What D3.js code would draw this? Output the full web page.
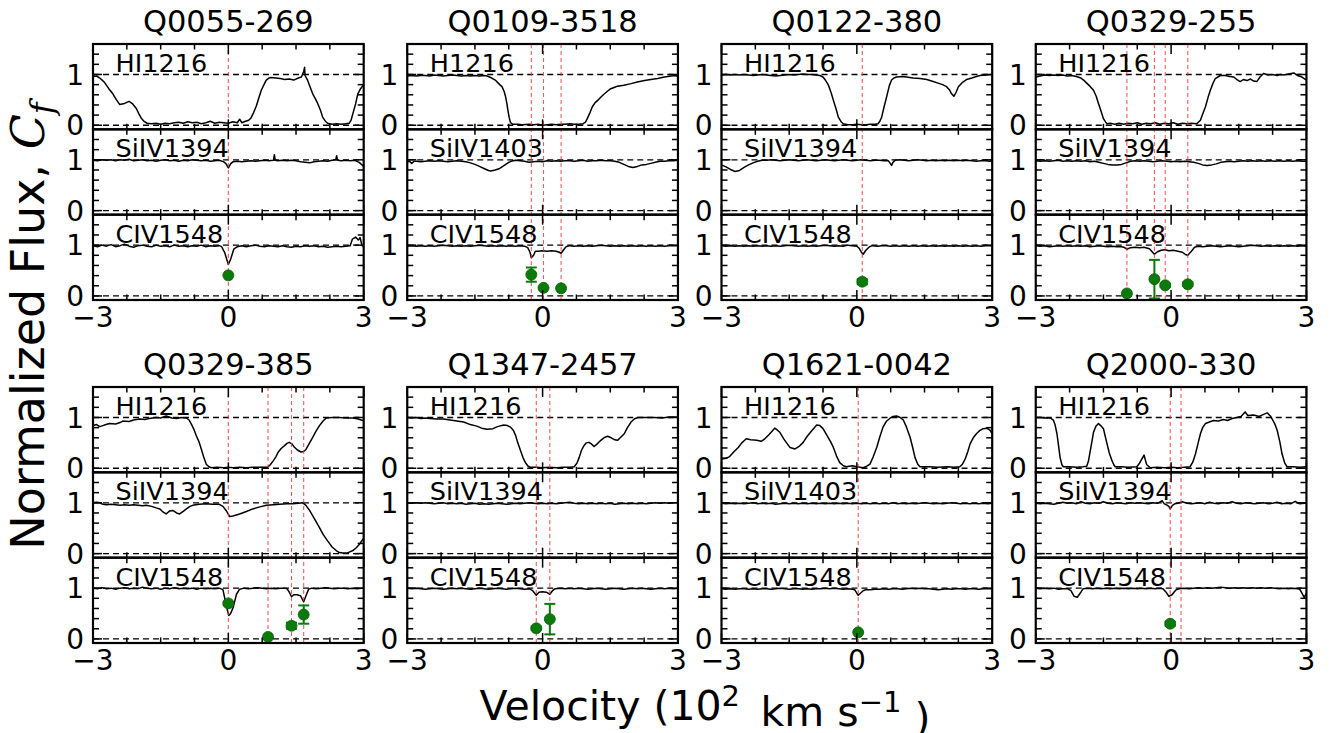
<!DOCTYPE html>
<html><head><meta charset="utf-8">
<script src="https://cdn.jsdelivr.net/npm/d3@7"></script>
<style>body{margin:0;background:#fff}svg{display:block}text{font-family:"DejaVu Sans",sans-serif;fill:#000}</style>
</head><body><svg id="c" width="1331" height="733"></svg>
<script>
// ---------------- DATA ----------------
const panelNames = ["Q0055-269","Q0109-3518","Q0122-380","Q0329-255","Q0329-385","Q1347-2457","Q1621-0042","Q2000-330"];
const lineLabels = [
 ["HI1216","SiIV1394","CIV1548"],["H1216","SiIV1403","CIV1548"],["HI1216","SiIV1394","CIV1548"],["HI1216","SiIV1394","CIV1548"],
 ["HI1216","SiIV1394","CIV1548"],["HI1216","SiIV1394","CIV1548"],["HI1216","SiIV1403","CIV1548"],["HI1216","SiIV1394","CIV1548"]];
const xTickValues = [-3,0,3];
const xTickLabels = ["\u22123","0","3"];
const yTickValues = [0,1];
const yTickLabels = ["0","1"];

// velocity (10^2 km/s), normalized flux
const q0055_HI = [[-3,0.96],[-2.92,0.97],[-2.85,0.93],[-2.75,0.85],[-2.65,0.72],[-2.56,0.62],[-2.48,0.5],[-2.41,0.41],[-2.3,0.43],[-2.2,0.47],[-2.12,0.42],[-2.04,0.33],[-1.98,0.22],[-1.93,0.14],[-1.86,0.07],[-1.8,0.04],[-1.7,0.03],[-1.6,0.04],[-1.5,0.02],[-1.4,0.04],[-1.3,0.03],[-1.2,0.05],[-1.1,0.06],[-1.0,0.04],[-0.9,0.07],[-0.8,0.05],[-0.7,0.06],[-0.6,0.03],[-0.5,0.05],[-0.4,0.08],[-0.3,0.04],[-0.2,0.06],[-0.1,0.05],[0,0.04],[0.1,0.07],[0.2,0.05],[0.25,0.12],[0.3,0.05],[0.38,0.08],[0.45,0.1],[0.5,0.14],[0.56,0.25],[0.62,0.38],[0.68,0.55],[0.73,0.69],[0.79,0.8],[0.84,0.89],[0.9,0.93],[0.95,0.94],[1.05,0.93],[1.15,0.92],[1.25,0.9],[1.35,0.91],[1.45,0.89],[1.55,0.93],[1.62,0.95],[1.67,1.06],[1.69,1.14],[1.7,0.98],[1.75,0.9],[1.81,0.76],[1.87,0.62],[1.93,0.52],[1.98,0.43],[2.04,0.3],[2.09,0.16],[2.15,0.08],[2.2,0.04],[2.3,0.02],[2.4,0.03],[2.5,0.02],[2.6,0.03],[2.68,0.04],[2.72,0.1],[2.76,0.23],[2.82,0.42],[2.87,0.62],[2.93,0.72],[3,0.8]];
const q0055_SiIV = [[-3,0.99],[-2.9,0.98],[-2.8,1.0],[-2.7,0.99],[-2.6,1.0],[-2.5,0.98],[-2.4,1.0],[-2.3,0.99],[-2.2,1.01],[-2.1,0.98],[-2.0,0.99],[-1.9,1.0],[-1.8,0.98],[-1.7,0.99],[-1.6,0.97],[-1.5,0.99],[-1.4,1.0],[-1.3,0.98],[-1.2,0.99],[-1.1,0.97],[-1.0,0.99],[-0.9,0.98],[-0.8,1.0],[-0.7,0.99],[-0.6,0.98],[-0.5,0.99],[-0.4,0.97],[-0.3,0.98],[-0.2,0.99],[-0.1,0.96],[-0.05,0.92],[0,0.84],[0.05,0.92],[0.1,0.96],[0.2,0.97],[0.3,0.96],[0.4,0.97],[0.5,0.98],[0.6,0.97],[0.7,0.98],[0.8,0.99],[0.9,0.98],[1.0,0.99],[1.02,1.1],[1.04,0.99],[1.1,0.98],[1.2,0.99],[1.3,0.98],[1.4,0.99],[1.5,0.98],[1.6,0.96],[1.7,0.95],[1.8,0.94],[1.9,0.96],[2.0,0.97],[2.1,0.98],[2.2,0.97],[2.3,0.99],[2.38,1.0],[2.4,1.08],[2.42,0.99],[2.5,0.98],[2.6,0.99],[2.7,0.98],[2.8,0.99],[2.9,0.95],[3,0.87]];
const q0055_CIV = [[-3,0.99],[-2.9,0.97],[-2.8,1.0],[-2.7,0.98],[-2.6,1.01],[-2.5,0.97],[-2.4,0.99],[-2.3,1.02],[-2.2,0.98],[-2.1,0.96],[-2.0,0.99],[-1.9,1.0],[-1.8,0.98],[-1.7,0.97],[-1.6,1.0],[-1.5,0.98],[-1.4,0.99],[-1.3,0.97],[-1.2,1.0],[-1.1,0.98],[-1.0,0.99],[-0.9,0.97],[-0.8,0.99],[-0.7,0.98],[-0.6,1.0],[-0.5,0.97],[-0.4,0.99],[-0.3,0.98],[-0.2,0.99],[-0.15,0.97],[-0.08,0.85],[0,0.62],[0.05,0.72],[0.12,0.92],[0.2,0.97],[0.3,0.99],[0.4,0.97],[0.5,0.99],[0.6,1.0],[0.7,0.98],[0.8,0.97],[0.9,0.99],[1.0,0.98],[1.1,0.97],[1.2,0.99],[1.3,0.97],[1.4,0.96],[1.5,0.98],[1.6,0.97],[1.7,0.99],[1.8,0.98],[1.9,0.99],[2.0,0.97],[2.1,0.98],[2.2,0.96],[2.3,0.97],[2.4,0.98],[2.5,0.97],[2.6,0.98],[2.7,0.99],[2.75,1.12],[2.82,1.16],[2.88,1.1],[2.92,1.15],[2.96,1.0],[3,0.96]];

const q0109_HI = [[-3,0.97],[-2.9,0.98],[-2.8,0.97],[-2.7,0.98],[-2.6,0.98],[-2.5,0.97],[-2.4,0.99],[-2.3,0.98],[-2.2,0.97],[-2.1,0.98],[-2.0,0.99],[-1.9,0.98],[-1.8,0.97],[-1.7,0.98],[-1.6,0.97],[-1.5,0.98],[-1.4,0.97],[-1.3,0.98],[-1.23,0.97],[-1.15,0.94],[-1.05,0.89],[-0.95,0.8],[-0.9,0.76],[-0.85,0.66],[-0.82,0.56],[-0.79,0.42],[-0.77,0.3],[-0.74,0.15],[-0.71,0.05],[-0.66,0.02],[-0.55,0.02],[-0.45,0.01],[-0.3,0.02],[-0.2,0.01],[-0.1,0.02],[0,0.0],[0.1,0.01],[0.2,0.02],[0.3,0.01],[0.4,0.02],[0.5,0.02],[0.6,0.03],[0.7,0.02],[0.8,0.02],[0.9,0.03],[0.95,0.06],[0.99,0.13],[1.05,0.25],[1.1,0.36],[1.16,0.44],[1.22,0.49],[1.3,0.56],[1.37,0.62],[1.45,0.68],[1.51,0.72],[1.6,0.75],[1.66,0.77],[1.8,0.79],[1.96,0.82],[2.1,0.85],[2.26,0.88],[2.4,0.9],[2.55,0.92],[2.7,0.95],[2.85,0.97],[2.95,0.98],[3,0.96]];
const q0109_SiIV = [[-3,0.96],[-2.95,0.97],[-2.9,0.93],[-2.85,0.97],[-2.8,0.97],[-2.7,0.96],[-2.6,0.97],[-2.5,0.98],[-2.4,0.97],[-2.3,0.98],[-2.2,0.97],[-2.1,0.96],[-2.0,0.97],[-1.9,0.98],[-1.8,0.97],[-1.7,0.96],[-1.6,0.94],[-1.5,0.91],[-1.4,0.87],[-1.3,0.83],[-1.2,0.79],[-1.15,0.78],[-1.05,0.8],[-0.95,0.83],[-0.85,0.89],[-0.75,0.95],[-0.7,0.97],[-0.6,0.99],[-0.5,0.98],[-0.4,0.97],[-0.3,0.95],[-0.2,0.96],[-0.1,0.97],[0,0.96],[0.1,0.98],[0.2,0.97],[0.3,0.98],[0.4,0.97],[0.5,0.98],[0.6,0.98],[0.7,0.97],[0.8,0.98],[0.9,0.99],[1.0,0.97],[1.1,0.98],[1.2,0.98],[1.3,0.99],[1.4,0.98],[1.5,0.98],[1.6,0.97],[1.7,0.95],[1.8,0.91],[1.9,0.87],[2.0,0.85],[2.1,0.87],[2.2,0.9],[2.3,0.91],[2.4,0.93],[2.5,0.95],[2.6,0.97],[2.7,0.97],[2.8,0.98],[2.9,0.98],[3,0.99]];
const q0109_CIV = [[-3,0.98],[-2.9,0.99],[-2.8,0.98],[-2.7,0.99],[-2.6,0.98],[-2.5,0.99],[-2.4,0.98],[-2.3,0.99],[-2.2,1.0],[-2.1,0.99],[-2.0,0.98],[-1.9,0.99],[-1.8,0.98],[-1.7,0.99],[-1.6,0.98],[-1.5,0.99],[-1.4,1.0],[-1.3,0.99],[-1.2,0.98],[-1.1,0.99],[-1.0,0.98],[-0.9,0.99],[-0.8,0.98],[-0.7,0.99],[-0.6,0.98],[-0.5,0.99],[-0.4,0.98],[-0.33,0.95],[-0.28,0.86],[-0.25,0.75],[-0.2,0.8],[-0.16,0.88],[-0.1,0.88],[0,0.89],[0.1,0.88],[0.2,0.89],[0.3,0.88],[0.37,0.86],[0.41,0.84],[0.46,0.9],[0.52,0.97],[0.6,0.99],[0.7,0.98],[0.8,0.99],[0.9,0.98],[1.0,0.99],[1.1,0.98],[1.2,0.99],[1.3,1.0],[1.4,0.99],[1.5,0.98],[1.6,0.99],[1.7,0.98],[1.8,0.99],[1.9,0.98],[2.0,0.99],[2.1,0.98],[2.2,0.99],[2.3,0.98],[2.4,0.99],[2.5,0.98],[2.6,0.99],[2.7,0.98],[2.8,0.99],[2.9,0.99],[3,0.99]];

const q0122_HI = [[-3,0.99],[-2.9,1.0],[-2.8,0.99],[-2.7,1.0],[-2.6,0.99],[-2.5,1.0],[-2.4,0.99],[-2.3,0.98],[-2.2,0.99],[-2.1,1.0],[-2.0,0.99],[-1.9,0.98],[-1.8,0.97],[-1.7,0.98],[-1.6,0.99],[-1.5,1.0],[-1.4,0.99],[-1.3,1.0],[-1.2,1.01],[-1.1,1.0],[-1.0,1.0],[-0.9,0.99],[-0.82,0.98],[-0.75,0.95],[-0.69,0.88],[-0.63,0.79],[-0.57,0.64],[-0.52,0.49],[-0.46,0.32],[-0.41,0.16],[-0.35,0.07],[-0.3,0.03],[-0.2,0.01],[-0.1,0.01],[0,0.02],[0.1,0.01],[0.2,0.01],[0.3,0.02],[0.4,0.02],[0.47,0.03],[0.51,0.08],[0.55,0.16],[0.6,0.35],[0.66,0.56],[0.72,0.78],[0.77,0.89],[0.82,0.93],[0.88,0.95],[1.0,0.96],[1.1,0.95],[1.25,0.93],[1.4,0.92],[1.55,0.9],[1.69,0.86],[1.8,0.83],[1.9,0.8],[1.99,0.76],[2.05,0.7],[2.1,0.62],[2.15,0.57],[2.2,0.65],[2.25,0.76],[2.35,0.85],[2.43,0.9],[2.55,0.93],[2.65,0.96],[2.73,0.98],[2.85,0.99],[3,1.0]];
const q0122_SiIV = [[-3,0.9],[-2.9,0.86],[-2.8,0.81],[-2.7,0.77],[-2.6,0.79],[-2.5,0.85],[-2.4,0.9],[-2.3,0.94],[-2.2,0.97],[-2.1,0.99],[-2.0,0.99],[-1.9,1.0],[-1.8,0.99],[-1.7,0.98],[-1.6,0.99],[-1.5,1.0],[-1.4,0.99],[-1.3,0.98],[-1.2,0.99],[-1.1,1.0],[-1.0,0.99],[-0.9,0.98],[-0.8,0.99],[-0.7,1.0],[-0.6,0.99],[-0.5,0.98],[-0.4,0.99],[-0.3,1.0],[-0.2,0.99],[-0.1,0.98],[0,0.99],[0.1,1.0],[0.2,0.99],[0.3,0.98],[0.4,0.99],[0.5,0.99],[0.6,0.98],[0.7,0.98],[0.74,0.93],[0.77,0.89],[0.8,0.95],[0.85,0.99],[0.95,1.0],[1.05,0.99],[1.15,0.98],[1.25,0.99],[1.35,1.0],[1.45,0.99],[1.55,0.98],[1.65,0.99],[1.75,0.98],[1.85,0.99],[1.95,0.98],[2.05,0.99],[2.15,0.98],[2.25,0.99],[2.35,0.98],[2.45,0.99],[2.55,0.98],[2.65,0.97],[2.75,0.98],[2.85,0.98],[2.95,0.97],[3,0.98]];
const q0122_CIV = [[-3,0.99],[-2.9,0.98],[-2.8,0.99],[-2.7,0.98],[-2.6,0.99],[-2.5,0.98],[-2.4,0.99],[-2.3,0.98],[-2.2,0.99],[-2.1,0.98],[-2.0,0.99],[-1.9,0.98],[-1.8,0.99],[-1.7,0.98],[-1.6,0.99],[-1.5,1.0],[-1.4,0.99],[-1.3,0.98],[-1.2,0.99],[-1.1,0.98],[-1.0,0.99],[-0.9,0.98],[-0.8,0.99],[-0.7,1.0],[-0.6,0.99],[-0.5,0.98],[-0.4,0.99],[-0.3,0.98],[-0.2,1.0],[-0.1,0.99],[0,0.98],[0.05,0.94],[0.1,0.86],[0.14,0.82],[0.2,0.9],[0.28,0.97],[0.35,0.99],[0.45,0.98],[0.55,0.99],[0.65,0.99],[0.75,0.98],[0.85,0.99],[0.95,0.98],[1.05,0.99],[1.15,0.98],[1.25,0.99],[1.35,0.98],[1.45,0.99],[1.55,0.98],[1.65,0.99],[1.75,0.98],[1.85,0.99],[1.95,0.98],[2.05,0.99],[2.15,0.98],[2.25,0.99],[2.35,0.98],[2.45,0.99],[2.55,0.98],[2.65,0.99],[2.75,0.98],[2.85,0.99],[3,0.99]];

const q0329a_HI = [[-3,0.95],[-2.9,0.97],[-2.8,0.99],[-2.7,0.98],[-2.6,0.99],[-2.5,0.98],[-2.4,0.99],[-2.3,0.97],[-2.2,0.98],[-2.1,0.96],[-2.0,0.93],[-1.94,0.89],[-1.87,0.83],[-1.8,0.77],[-1.72,0.69],[-1.66,0.57],[-1.61,0.43],[-1.55,0.27],[-1.5,0.13],[-1.45,0.06],[-1.42,0.03],[-1.35,0.04],[-1.25,0.02],[-1.15,0.04],[-1.05,0.02],[-0.95,0.04],[-0.85,0.03],[-0.75,0.05],[-0.65,0.02],[-0.55,0.04],[-0.45,0.03],[-0.35,0.05],[-0.25,0.02],[-0.15,0.04],[-0.05,0.03],[0.05,0.05],[0.15,0.02],[0.25,0.04],[0.35,0.03],[0.45,0.04],[0.57,0.03],[0.65,0.1],[0.7,0.22],[0.76,0.36],[0.82,0.55],[0.87,0.69],[0.93,0.83],[0.98,0.92],[1.09,0.98],[1.2,0.98],[1.3,0.96],[1.39,0.95],[1.46,0.9],[1.53,0.86],[1.6,0.9],[1.68,0.88],[1.76,0.91],[1.83,0.87],[1.9,0.86],[1.97,0.95],[2.05,1.02],[2.15,0.99],[2.25,1.0],[2.35,0.98],[2.42,1.0],[2.5,0.99],[2.6,1.01],[2.72,1.03],[2.8,0.98],[2.9,0.95],[3,0.89]];
const q0329a_SiIV = [[-3,0.98],[-2.9,0.97],[-2.8,0.98],[-2.7,0.97],[-2.6,0.98],[-2.5,0.99],[-2.4,0.97],[-2.3,0.98],[-2.2,0.97],[-2.1,0.98],[-2.0,0.97],[-1.9,0.98],[-1.8,0.96],[-1.7,0.97],[-1.6,0.95],[-1.5,0.93],[-1.4,0.91],[-1.3,0.9],[-1.2,0.9],[-1.1,0.91],[-1.0,0.94],[-0.9,0.97],[-0.8,0.98],[-0.7,0.97],[-0.6,0.98],[-0.5,0.97],[-0.4,0.96],[-0.3,0.97],[-0.2,0.98],[-0.1,0.97],[0,0.96],[0.1,0.97],[0.2,0.96],[0.3,0.97],[0.4,0.96],[0.5,0.95],[0.6,0.93],[0.7,0.9],[0.8,0.89],[0.9,0.9],[1.0,0.92],[1.1,0.95],[1.2,0.96],[1.3,0.97],[1.4,0.96],[1.5,0.97],[1.6,0.98],[1.7,0.97],[1.8,0.98],[1.9,0.97],[2.0,0.98],[2.1,0.97],[2.2,0.98],[2.3,0.97],[2.4,0.98],[2.5,0.97],[2.6,0.98],[2.7,0.97],[2.8,0.98],[2.9,0.97],[3,0.97]];
const q0329a_CIV = [[-3,0.99],[-2.9,0.98],[-2.8,0.99],[-2.7,0.97],[-2.6,0.98],[-2.5,0.99],[-2.4,0.98],[-2.3,0.99],[-2.2,0.98],[-2.1,0.99],[-2.0,0.98],[-1.9,0.99],[-1.8,0.97],[-1.7,0.98],[-1.6,0.99],[-1.5,0.98],[-1.4,0.97],[-1.3,0.98],[-1.2,0.97],[-1.1,0.97],[-1.05,0.96],[-0.98,0.92],[-0.9,0.95],[-0.8,0.96],[-0.7,0.95],[-0.6,0.96],[-0.48,0.93],[-0.42,0.87],[-0.37,0.82],[-0.3,0.87],[-0.22,0.9],[-0.13,0.91],[-0.05,0.89],[0.05,0.9],[0.15,0.88],[0.25,0.86],[0.33,0.81],[0.37,0.8],[0.45,0.88],[0.52,0.96],[0.6,0.98],[0.7,0.97],[0.8,0.98],[0.9,0.99],[1.0,0.98],[1.1,0.97],[1.2,0.98],[1.3,0.99],[1.4,0.98],[1.5,0.97],[1.6,0.98],[1.7,0.99],[1.8,1.0],[1.9,0.99],[2.0,0.98],[2.1,0.99],[2.2,0.98],[2.3,0.99],[2.4,0.98],[2.5,0.99],[2.6,0.98],[2.7,0.99],[2.8,0.98],[2.9,0.99],[3,0.98]];

const q0329b_HI = [[-3,0.84],[-2.92,0.86],[-2.85,0.82],[-2.75,0.85],[-2.63,0.88],[-2.5,0.87],[-2.4,0.9],[-2.34,0.93],[-2.2,0.92],[-2.1,0.95],[-1.97,0.97],[-1.85,0.96],[-1.75,0.98],[-1.6,1.0],[-1.5,0.99],[-1.38,1.03],[-1.25,0.99],[-1.15,0.98],[-1.05,1.0],[-0.93,0.99],[-0.87,0.95],[-0.82,0.87],[-0.76,0.76],[-0.71,0.64],[-0.65,0.52],[-0.6,0.38],[-0.55,0.23],[-0.49,0.08],[-0.43,0.03],[-0.38,0.01],[-0.25,0.02],[-0.1,0.01],[0,0.02],[0.1,0.01],[0.25,0.02],[0.4,0.01],[0.55,0.02],[0.7,0.02],[0.87,0.02],[0.93,0.07],[0.99,0.14],[1.05,0.22],[1.1,0.31],[1.17,0.39],[1.24,0.44],[1.3,0.49],[1.35,0.51],[1.41,0.48],[1.46,0.42],[1.53,0.36],[1.61,0.32],[1.67,0.33],[1.72,0.37],[1.8,0.5],[1.87,0.61],[1.95,0.74],[2.02,0.84],[2.1,0.93],[2.17,0.99],[2.3,1.0],[2.46,1.0],[2.6,0.99],[2.76,0.99],[2.88,0.97],[2.98,0.94],[3,0.93]];
const q0329b_SiIV = [[-3,1.0],[-2.92,1.01],[-2.85,1.0],[-2.78,0.97],[-2.7,0.96],[-2.6,0.97],[-2.5,0.96],[-2.4,0.95],[-2.3,0.96],[-2.2,0.95],[-2.1,0.96],[-2.0,0.95],[-1.9,0.94],[-1.82,0.95],[-1.7,0.93],[-1.6,0.9],[-1.52,0.88],[-1.45,0.82],[-1.38,0.78],[-1.3,0.84],[-1.23,0.85],[-1.15,0.8],[-1.08,0.78],[-1.0,0.83],[-0.93,0.88],[-0.85,0.93],[-0.79,0.95],[-0.65,0.97],[-0.49,0.98],[-0.35,0.97],[-0.2,0.97],[-0.12,0.93],[-0.05,0.85],[0.03,0.73],[0.1,0.74],[0.25,0.78],[0.4,0.83],[0.54,0.88],[0.7,0.92],[0.84,0.95],[1.0,0.96],[1.13,0.97],[1.3,0.98],[1.43,0.98],[1.55,0.99],[1.65,1.0],[1.72,0.95],[1.8,0.85],[1.9,0.7],[2.02,0.51],[2.1,0.38],[2.2,0.25],[2.3,0.13],[2.39,0.06],[2.46,0.02],[2.54,0.01],[2.62,0.01],[2.68,0.03],[2.76,0.06],[2.83,0.11],[2.9,0.18],[2.98,0.28],[3,0.3]];
const q0329b_CIV = [[-3,1.0],[-2.9,0.99],[-2.8,1.01],[-2.7,0.99],[-2.6,1.0],[-2.5,0.98],[-2.4,1.0],[-2.3,1.01],[-2.2,0.99],[-2.1,1.0],[-2.0,0.99],[-1.9,1.02],[-1.8,1.0],[-1.7,0.99],[-1.6,1.0],[-1.5,0.98],[-1.4,1.0],[-1.3,0.99],[-1.2,1.01],[-1.1,0.99],[-1.0,1.0],[-0.9,0.99],[-0.8,1.0],[-0.7,0.98],[-0.6,1.0],[-0.5,0.99],[-0.4,1.0],[-0.3,0.99],[-0.2,1.0],[-0.12,0.97],[-0.08,0.8],[-0.03,0.6],[0.01,0.46],[0.05,0.5],[0.11,0.63],[0.18,0.88],[0.25,0.98],[0.35,1.0],[0.45,0.99],[0.55,1.0],[0.65,1.01],[0.75,1.0],[0.85,0.99],[0.95,1.0],[1.05,0.99],[1.15,1.0],[1.25,1.0],[1.3,0.99],[1.35,0.92],[1.4,0.83],[1.45,0.87],[1.52,0.87],[1.6,0.85],[1.67,0.73],[1.72,0.85],[1.78,0.98],[1.85,1.0],[1.95,0.99],[2.05,1.0],[2.15,1.01],[2.25,1.0],[2.35,0.99],[2.45,1.0],[2.55,1.0],[2.65,0.99],[2.75,1.0],[2.85,0.99],[2.95,1.0],[3,1.0]];

const q1347_HI = [[-3,1.0],[-2.9,0.99],[-2.8,1.0],[-2.7,0.98],[-2.6,0.99],[-2.5,0.98],[-2.35,0.97],[-2.2,0.97],[-2.05,0.95],[-1.9,0.93],[-1.75,0.91],[-1.6,0.86],[-1.46,0.83],[-1.35,0.79],[-1.23,0.77],[-1.1,0.78],[-1.0,0.82],[-0.86,0.85],[-0.78,0.84],[-0.71,0.81],[-0.65,0.75],[-0.6,0.65],[-0.55,0.5],[-0.49,0.35],[-0.43,0.2],[-0.38,0.11],[-0.32,0.04],[-0.27,0.02],[-0.15,0.02],[0,0.01],[0.15,0.02],[0.3,0.01],[0.45,0.02],[0.6,0.02],[0.7,0.03],[0.76,0.1],[0.81,0.21],[0.86,0.35],[0.92,0.45],[0.97,0.5],[1.03,0.51],[1.08,0.48],[1.14,0.43],[1.2,0.47],[1.29,0.55],[1.36,0.6],[1.44,0.63],[1.52,0.6],[1.6,0.56],[1.66,0.55],[1.72,0.6],[1.81,0.68],[1.88,0.8],[1.96,0.91],[2.03,0.97],[2.11,1.0],[2.3,1.0],[2.48,1.0],[2.65,0.99],[2.8,1.01],[3,1.01]];
const q1347_SiIV = [[-3,1.0],[-2.9,0.99],[-2.8,1.0],[-2.7,0.99],[-2.6,1.0],[-2.5,0.99],[-2.4,0.98],[-2.3,0.99],[-2.2,1.0],[-2.1,0.98],[-2.0,0.99],[-1.9,0.98],[-1.8,0.99],[-1.7,0.97],[-1.6,0.98],[-1.5,0.99],[-1.4,0.97],[-1.3,0.98],[-1.2,0.97],[-1.1,0.98],[-1.0,0.99],[-0.9,0.98],[-0.8,0.97],[-0.7,0.98],[-0.6,0.99],[-0.5,0.98],[-0.4,0.99],[-0.3,1.0],[-0.2,0.99],[-0.1,0.98],[0,0.99],[0.1,0.98],[0.2,0.99],[0.3,0.98],[0.4,0.99],[0.5,1.0],[0.6,1.01],[0.7,0.99],[0.8,0.98],[0.9,0.99],[1.0,0.98],[1.1,0.99],[1.2,0.98],[1.3,0.99],[1.4,0.98],[1.5,0.99],[1.6,0.97],[1.7,0.98],[1.8,0.99],[1.9,0.98],[2.0,0.99],[2.1,0.98],[2.2,0.99],[2.3,0.98],[2.4,0.99],[2.5,1.0],[2.6,0.99],[2.7,1.0],[2.8,0.99],[2.9,1.0],[3,1.0]];
const q1347_CIV = [[-3,1.0],[-2.9,0.99],[-2.8,1.0],[-2.7,0.99],[-2.6,0.98],[-2.5,0.99],[-2.4,1.0],[-2.3,0.99],[-2.2,0.98],[-2.1,0.99],[-2.0,1.0],[-1.9,0.99],[-1.8,1.0],[-1.7,0.99],[-1.6,0.98],[-1.5,0.99],[-1.4,1.0],[-1.3,0.99],[-1.2,0.98],[-1.1,0.99],[-1.0,1.0],[-0.9,0.99],[-0.8,0.98],[-0.7,0.99],[-0.6,1.0],[-0.5,0.99],[-0.4,0.98],[-0.3,0.99],[-0.22,0.95],[-0.14,0.86],[-0.08,0.92],[0,0.93],[0.08,0.92],[0.16,0.88],[0.22,0.95],[0.28,0.99],[0.4,1.0],[0.5,0.99],[0.6,1.0],[0.7,0.99],[0.8,1.0],[0.9,0.99],[1.0,0.98],[1.1,0.99],[1.2,1.0],[1.3,0.99],[1.4,0.98],[1.5,0.99],[1.6,1.0],[1.7,0.99],[1.8,0.98],[1.9,0.99],[2.0,1.0],[2.1,0.99],[2.2,1.0],[2.3,0.99],[2.4,0.98],[2.5,0.99],[2.6,1.0],[2.7,0.99],[2.8,1.0],[2.9,0.99],[3,1.0]];

const q1621_HI = [[-3,0.18],[-2.92,0.19],[-2.82,0.23],[-2.72,0.33],[-2.63,0.41],[-2.55,0.5],[-2.45,0.58],[-2.35,0.56],[-2.22,0.55],[-2.12,0.53],[-2.04,0.58],[-1.95,0.66],[-1.88,0.73],[-1.82,0.79],[-1.76,0.75],[-1.71,0.71],[-1.62,0.58],[-1.55,0.49],[-1.48,0.41],[-1.37,0.38],[-1.28,0.43],[-1.19,0.51],[-1.1,0.63],[-1.0,0.74],[-0.89,0.85],[-0.82,0.84],[-0.75,0.78],[-0.65,0.63],[-0.58,0.52],[-0.52,0.41],[-0.45,0.24],[-0.38,0.11],[-0.3,0.05],[-0.23,0.03],[-0.1,0.05],[0,0.03],[0.14,0.01],[0.22,0.04],[0.29,0.08],[0.36,0.22],[0.44,0.41],[0.51,0.62],[0.58,0.81],[0.65,0.92],[0.73,0.98],[0.8,1.02],[0.88,1.03],[0.96,1.0],[1.03,0.95],[1.1,0.81],[1.18,0.61],[1.24,0.4],[1.29,0.21],[1.35,0.08],[1.4,0.03],[1.6,0.03],[1.8,0.02],[2.0,0.03],[2.15,0.02],[2.28,0.03],[2.34,0.08],[2.4,0.18],[2.46,0.33],[2.51,0.48],[2.58,0.6],[2.65,0.68],[2.72,0.74],[2.8,0.78],[2.88,0.79],[2.95,0.75],[3,0.68]];
const q1621_SiIV = [[-3,0.99],[-2.9,0.98],[-2.8,0.99],[-2.7,0.98],[-2.6,0.99],[-2.5,0.98],[-2.4,0.99],[-2.3,1.0],[-2.2,0.98],[-2.1,0.99],[-2.0,0.98],[-1.9,0.99],[-1.8,0.97],[-1.7,0.98],[-1.6,0.99],[-1.5,0.98],[-1.4,0.99],[-1.3,0.98],[-1.2,0.99],[-1.1,0.98],[-1.0,0.99],[-0.9,0.98],[-0.8,0.99],[-0.7,0.98],[-0.6,0.99],[-0.5,0.98],[-0.4,0.99],[-0.3,0.98],[-0.2,0.99],[-0.1,0.98],[0,0.99],[0.1,0.98],[0.2,0.99],[0.3,0.98],[0.4,0.99],[0.5,0.98],[0.6,0.99],[0.7,0.98],[0.8,1.0],[0.9,0.98],[1.0,0.99],[1.1,0.98],[1.2,0.99],[1.3,0.98],[1.4,0.99],[1.5,1.0],[1.6,0.99],[1.7,0.98],[1.8,0.99],[1.9,0.98],[2.0,0.99],[2.1,1.0],[2.2,0.99],[2.3,0.98],[2.4,0.99],[2.5,0.98],[2.6,0.99],[2.7,0.98],[2.8,0.99],[2.9,0.98],[3,0.99]];
const q1621_CIV = [[-3,0.99],[-2.9,0.98],[-2.8,0.99],[-2.7,0.98],[-2.6,0.99],[-2.5,0.99],[-2.4,0.98],[-2.3,0.99],[-2.2,0.98],[-2.1,0.99],[-2.0,0.99],[-1.9,0.98],[-1.8,0.99],[-1.7,1.0],[-1.6,0.99],[-1.5,0.98],[-1.4,0.99],[-1.3,0.99],[-1.2,0.98],[-1.1,0.99],[-1.0,0.98],[-0.9,0.99],[-0.8,0.99],[-0.7,1.0],[-0.6,0.99],[-0.5,1.0],[-0.4,0.99],[-0.3,0.98],[-0.2,0.99],[-0.1,0.98],[-0.05,0.97],[0,0.9],[0.03,0.86],[0.08,0.9],[0.14,0.95],[0.2,0.97],[0.3,0.97],[0.4,0.98],[0.5,0.98],[0.6,0.99],[0.7,0.98],[0.8,0.99],[0.9,0.99],[1.0,0.98],[1.1,0.99],[1.2,1.0],[1.3,0.99],[1.4,1.0],[1.5,0.99],[1.6,0.99],[1.7,0.98],[1.8,0.97],[1.9,0.98],[2.0,0.99],[2.1,0.98],[2.2,0.99],[2.3,0.99],[2.4,0.98],[2.5,0.99],[2.6,0.99],[2.7,0.98],[2.8,0.99],[2.9,0.99],[3,0.99]];

const q2000_HI = [[-3,1.0],[-2.9,1.0],[-2.8,0.99],[-2.68,0.99],[-2.61,0.95],[-2.57,0.85],[-2.53,0.68],[-2.5,0.48],[-2.46,0.21],[-2.42,0.07],[-2.39,0.03],[-2.25,0.03],[-2.1,0.02],[-1.95,0.03],[-1.87,0.04],[-1.83,0.15],[-1.79,0.35],[-1.75,0.55],[-1.72,0.71],[-1.67,0.82],[-1.61,0.88],[-1.56,0.84],[-1.5,0.78],[-1.46,0.63],[-1.42,0.48],[-1.37,0.3],[-1.31,0.15],[-1.27,0.07],[-1.24,0.03],[-1.1,0.03],[-0.95,0.02],[-0.76,0.03],[-0.7,0.1],[-0.65,0.18],[-0.6,0.26],[-0.57,0.16],[-0.54,0.07],[-0.46,0.01],[-0.3,0.02],[-0.15,0.01],[0,0.02],[0.15,0.01],[0.3,0.02],[0.42,0.03],[0.48,0.12],[0.54,0.28],[0.6,0.5],[0.65,0.68],[0.7,0.8],[0.76,0.88],[0.85,0.91],[0.94,0.94],[1.05,0.93],[1.16,0.96],[1.25,0.94],[1.35,0.98],[1.46,1.0],[1.55,1.02],[1.64,1.11],[1.7,1.04],[1.83,1.05],[1.95,1.02],[2.05,1.06],[2.13,1.09],[2.2,1.03],[2.24,0.97],[2.3,0.87],[2.35,0.75],[2.41,0.52],[2.46,0.28],[2.52,0.1],[2.57,0.03],[2.7,0.03],[2.85,0.02],[3,0.03]];
const q2000_SiIV = [[-3,0.99],[-2.9,0.98],[-2.8,0.99],[-2.7,0.98],[-2.6,0.97],[-2.5,0.99],[-2.4,1.01],[-2.3,0.99],[-2.2,1.0],[-2.1,0.98],[-2.0,1.02],[-1.9,0.99],[-1.8,0.98],[-1.7,1.0],[-1.6,0.99],[-1.5,1.02],[-1.4,0.99],[-1.3,0.98],[-1.2,1.0],[-1.1,0.99],[-1.0,0.98],[-0.9,1.0],[-0.8,0.99],[-0.7,1.0],[-0.6,0.99],[-0.5,0.98],[-0.4,1.0],[-0.3,0.99],[-0.2,1.04],[-0.15,0.98],[-0.1,0.96],[-0.05,0.93],[-0.02,0.88],[0.03,0.95],[0.08,0.98],[0.15,0.99],[0.25,1.02],[0.35,0.99],[0.45,0.98],[0.55,0.99],[0.65,1.0],[0.75,0.98],[0.85,1.01],[0.95,0.99],[1.05,0.98],[1.15,1.0],[1.25,0.99],[1.35,1.02],[1.45,0.99],[1.55,0.98],[1.65,1.0],[1.75,0.99],[1.85,0.98],[1.95,0.99],[2.05,1.0],[2.15,0.98],[2.25,0.99],[2.35,1.01],[2.45,0.98],[2.55,0.99],[2.65,0.98],[2.75,1.03],[2.85,0.98],[2.95,0.99],[3,0.99]];
const q2000_CIV = [[-3,1.0],[-2.9,0.99],[-2.8,1.0],[-2.7,0.99],[-2.6,1.0],[-2.5,0.98],[-2.4,0.99],[-2.3,0.99],[-2.22,0.95],[-2.15,0.84],[-2.08,0.82],[-2.0,0.92],[-1.95,0.99],[-1.85,1.0],[-1.75,0.99],[-1.65,1.0],[-1.55,0.99],[-1.45,1.0],[-1.35,0.99],[-1.25,1.0],[-1.15,0.99],[-1.05,1.0],[-0.95,0.99],[-0.85,1.0],[-0.75,0.99],[-0.65,1.0],[-0.55,0.99],[-0.45,1.0],[-0.35,0.99],[-0.25,1.0],[-0.18,0.99],[-0.12,0.93],[-0.05,0.84],[0.02,0.87],[0.1,0.96],[0.18,0.99],[0.28,1.0],[0.4,0.99],[0.5,1.0],[0.6,1.01],[0.7,1.0],[0.8,1.01],[0.9,1.0],[1.0,1.01],[1.1,1.02],[1.2,1.01],[1.3,1.0],[1.4,1.01],[1.5,1.0],[1.6,1.01],[1.7,1.0],[1.8,1.01],[1.9,1.0],[2.0,1.01],[2.1,1.0],[2.2,1.01],[2.3,1.0],[2.4,0.99],[2.5,1.0],[2.6,0.99],[2.7,1.0],[2.8,0.99],[2.85,0.98],[2.9,0.9],[2.95,0.82],[3,0.9]];

// component velocities (red dashed lines)
const q0055_comp = [0];
const q0109_comp = [-0.25,0.02,0.41];
const q0122_comp = [0.12];
const q0329a_comp = [-0.98,-0.37,-0.13,0.37];
const q0329b_comp = [0,0.88,1.4,1.67];
const q1347_comp = [-0.14,0.16];
const q1621_comp = [0.03];
const q2000_comp = [-0.02,0.22];

// covering fractions [velocity, Cf, error]
const q0055_cf = [[0,0.405,0.02]];
const q0109_cf = [[-0.25,0.42,0.14],[0.02,0.16,0.02],[0.41,0.15,0.02]];
const q0122_cf = [[0.12,0.28,0.05]];
const q0329a_cf = [[-0.98,0.05,0.02],[-0.37,0.33,0.38],[-0.13,0.21,0.03],[0.37,0.23,0.03]];
const q0329b_cf = [[0,0.7,0.03],[0.88,0.04,0.02],[1.4,0.26,0.06],[1.67,0.48,0.18]];
const q1347_cf = [[-0.14,0.21,0.03],[0.16,0.39,0.3]];
const q1621_cf = [[0.03,0.13,0.02]];
const q2000_cf = [[-0.02,0.3,0.04]];

const spectra = [
 [q0055_HI,q0055_SiIV,q0055_CIV],[q0109_HI,q0109_SiIV,q0109_CIV],[q0122_HI,q0122_SiIV,q0122_CIV],[q0329a_HI,q0329a_SiIV,q0329a_CIV],
 [q0329b_HI,q0329b_SiIV,q0329b_CIV],[q1347_HI,q1347_SiIV,q1347_CIV],[q1621_HI,q1621_SiIV,q1621_CIV],[q2000_HI,q2000_SiIV,q2000_CIV]];
const components = [q0055_comp,q0109_comp,q0122_comp,q0329a_comp,q0329b_comp,q1347_comp,q1621_comp,q2000_comp];
const coverings = [q0055_cf,q0109_cf,q0122_cf,q0329a_cf,q0329b_cf,q1347_cf,q1621_cf,q2000_cf];

// ---------------- LAYOUT ----------------
const colX0 = 93, colStep = 314.25, pw = 270.7;
const rowTop = [44, 387], ph = 256, sh = ph/3;
const xMinor = d3.range(-3, 3.001, 0.75);
const yMinor = d3.range(0, 1.5, 0.2);
const svg = d3.select("#c");
const defs = svg.append("defs");

panelNames.forEach((name, i) => {
  const col = i % 4, row = Math.floor(i / 4);
  const left = colX0 + col*colStep, top = rowTop[row];
  const x = d3.scaleLinear().domain([-3,3]).range([left, left+pw]);
  const g = svg.append("g");
  g.append("text").attr("x", left+pw/2).attr("y", top-12).attr("text-anchor","middle")
    .attr("font-size", 30.5).text(name);

  const subs = [];
  for (let k = 0; k < 3; k++) {
    const st = top + k*sh, sb = st + sh;
    const y = d3.scaleLinear().domain([-0.08, 1.6]).range([sb, st]);
    subs.push({st, sb, y});
    const cid = `clip${i}_${k}`;
    defs.append("clipPath").attr("id", cid).append("rect")
      .attr("x", left).attr("y", st).attr("width", pw).attr("height", sh);
    const sg = g.append("g").attr("clip-path", `url(#${cid})`);
    [0,1].forEach(v => sg.append("line").attr("x1", left).attr("x2", left+pw)
      .attr("y1", y(v)).attr("y2", y(v)).attr("stroke","#000").attr("stroke-width",1.3)
      .attr("stroke-dasharray","6,4"));
    const line = d3.line().x(d => x(d[0])).y(d => y(d[1]));
    sg.append("path").datum(spectra[i][k]).attr("d", line).attr("fill","none")
      .attr("stroke","#000").attr("stroke-width",1.5).attr("stroke-linejoin","round");
  }
  components[i].forEach(v => g.append("line").attr("x1", x(v)).attr("x2", x(v))
    .attr("y1", top).attr("y2", top+ph).attr("stroke","#ff3030").attr("stroke-opacity",0.8)
    .attr("stroke-width",1.1).attr("stroke-dasharray","4,3"));
  const yc = subs[2].y;
  coverings[i].forEach(d => {
    const cx = x(d[0]);
    if (d[2] > 0.025) {
      g.append("line").attr("x1",cx).attr("x2",cx).attr("y1",yc(d[1]-d[2])).attr("y2",yc(d[1]+d[2]))
        .attr("stroke","#0a7a0a").attr("stroke-width",2);
      [d[1]-d[2], d[1]+d[2]].forEach(e => g.append("line").attr("x1",cx-5.5).attr("x2",cx+5.5)
        .attr("y1",yc(e)).attr("y2",yc(e)).attr("stroke","#0a7a0a").attr("stroke-width",2));
    }
    g.append("circle").attr("cx",cx).attr("cy",yc(d[1])).attr("r",5.5)
      .attr("fill","#0a7a0a").attr("stroke","#066006").attr("stroke-width",0.8);
  });
  subs.forEach((s, k) => {
    const {st, sb, y} = s;
    const tg = g.append("g").attr("stroke","#000").attr("stroke-width",1.5);
    xMinor.forEach(v => {
      const len = xTickValues.includes(v) ? 10 : 5.5;
      tg.append("line").attr("x1",x(v)).attr("x2",x(v)).attr("y1",sb).attr("y2",sb-len);
      tg.append("line").attr("x1",x(v)).attr("x2",x(v)).attr("y1",st).attr("y2",st+len);
    });
    yMinor.forEach(v => {
      const len = (Math.abs(v) < 1e-6 || Math.abs(v-1) < 1e-6) ? 9 : 6;
      tg.append("line").attr("x1",left).attr("x2",left+len).attr("y1",y(v)).attr("y2",y(v));
      tg.append("line").attr("x1",left+pw).attr("x2",left+pw-len).attr("y1",y(v)).attr("y2",y(v));
    });
    g.append("rect").attr("x",left).attr("y",st).attr("width",pw).attr("height",sh)
      .attr("fill","none").attr("stroke","#000").attr("stroke-width",2.2);
    g.append("text").attr("x", x(-2.5)).attr("y", st+28).attr("font-size",25.5).text(lineLabels[i][k]);
    yTickValues.forEach((v, j) => g.append("text").attr("x", left-9).attr("y", y(v)).attr("dy","0.36em")
      .attr("text-anchor","end").attr("font-size",28).text(yTickLabels[j]));
  });
  xTickValues.forEach((v, j) => g.append("text").attr("x", x(v)).attr("y", top+ph+17).attr("dy","0.36em")
    .attr("text-anchor","middle").attr("font-size",28).text(xTickLabels[j]));
});

// axis titles
const yl = svg.append("text").attr("transform","translate(27,326) rotate(-90)")
  .attr("text-anchor","middle").attr("dy","0.36em").attr("font-size",46);
yl.append("tspan").text("Normalized Flux, ");
yl.append("tspan").attr("font-family","'DejaVu Serif',serif").attr("font-style","italic").text("C");
yl.append("tspan").attr("font-family","'DejaVu Serif',serif").attr("font-style","italic")
  .attr("font-size",32).attr("dy","0.3em").text("f");

const xl = svg.append("text").attr("x",705).attr("y",720).attr("text-anchor","middle").attr("font-size",41);
xl.append("tspan").text("Velocity (");
xl.append("tspan").text("10");
xl.append("tspan").attr("font-size",29).attr("dy","-0.5em").text("2");
xl.append("tspan").attr("dy","0.5em").text("\u2002km s");
xl.append("tspan").attr("font-size",29).attr("dy","-0.5em").text("\u22121");
xl.append("tspan").attr("dy","0.5em").text(" )");
</script></body></html>
